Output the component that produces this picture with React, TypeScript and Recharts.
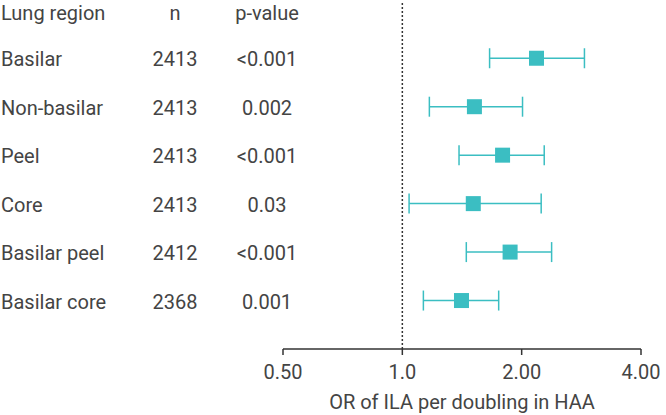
import { ScatterChart, Scatter, XAxis, YAxis, ErrorBar, ReferenceLine } from "recharts";

const headers = ["Lung region", "n", "p-value"];
const regions = ["Basilar", "Non-basilar", "Peel", "Core", "Basilar peel", "Basilar core"];
const counts = ["2413", "2413", "2413", "2413", "2412", "2368"];
const pValues = ["<0.001", "0.002", "<0.001", "0.03", "<0.001", "0.001"];
const oddsRatios = [2.18, 1.52, 1.79, 1.51, 1.87, 1.41];
const lowerCI = [1.66, 1.17, 1.39, 1.04, 1.45, 1.13];
const upperCI = [2.88, 2.01, 2.28, 2.24, 2.38, 1.75];
const xTicks = [0.5, 1, 2, 4];
const xTickLabels = ["0.50", "1.0", "2.00", "4.00"];

const TEAL = "#3bbec2";
const TEXT = "#444";

const data = regions.map((r, i) => ({
  row: i + 1,
  or: oddsRatios[i],
  err: [oddsRatios[i] - lowerCI[i], upperCI[i] - oddsRatios[i]],
}));

// y tick renders the whole table row (header is row 0)
function TableRow(props: any) {
  const { y, payload } = props;
  const i = payload.value;
  const cells = i === 0 ? headers : [regions[i - 1], counts[i - 1], pValues[i - 1]];
  const ty = i === 0 ? y + 3 : y + 1;
  return (
    <g fill={TEXT} fontSize={20}>
      <text x={1} y={ty} dy="0.36em" textAnchor="start">{cells[0]}</text>
      <text x={175} y={ty} dy="0.36em" textAnchor="middle">{cells[1]}</text>
      <text x={267} y={ty} dy="0.36em" textAnchor="middle">{cells[2]}</text>
    </g>
  );
}

function Square(props: any) {
  const { cx, cy } = props;
  return <rect x={cx - 7.5} y={cy - 7.5} width={15} height={15} fill={TEAL} />;
}

export default function App() {
  return (
    <div style={{ position: "absolute", left: 0, top: 0, background: "#fff" }}>
      <ScatterChart
        width={666}
        height={415}
        margin={{ top: 3, right: 25, bottom: 0, left: 0 }}
        style={{ fontFamily: "Roboto, sans-serif" }}
      >
        <XAxis
          type="number"
          dataKey="or"
          scale="log"
          domain={[0.5, 4]}
          ticks={xTicks}
          interval={0}
          allowDataOverflow
          tickFormatter={(v: number) => xTickLabels[xTicks.indexOf(v)] ?? String(v)}
          stroke="#333"
          strokeWidth={1.5}
          tickSize={6}
          tickMargin={10}
          tick={{ fill: TEXT, fontSize: 20 }}
          height={66}
          label={{ value: "OR of ILA per doubling in HAA", position: "insideBottom", offset: 6, fill: TEXT, fontSize: 20 }}
        />
        <YAxis
          type="number"
          dataKey="row"
          domain={[-0.14, 7]}
          reversed
          ticks={[0, 1, 2, 3, 4, 5, 6]}
          interval={0}
          width={283}
          axisLine={false}
          tickLine={false}
          tick={<TableRow />}
        />
        <ReferenceLine x={1} stroke="#333" strokeWidth={1.5} strokeDasharray="2 2" />
        <Scatter data={data} shape={<Square />} isAnimationActive={false}>
          <ErrorBar dataKey="err" direction="x" width={10} stroke={TEAL} strokeWidth={1.5} />
        </Scatter>
      </ScatterChart>
    </div>
  );
}
